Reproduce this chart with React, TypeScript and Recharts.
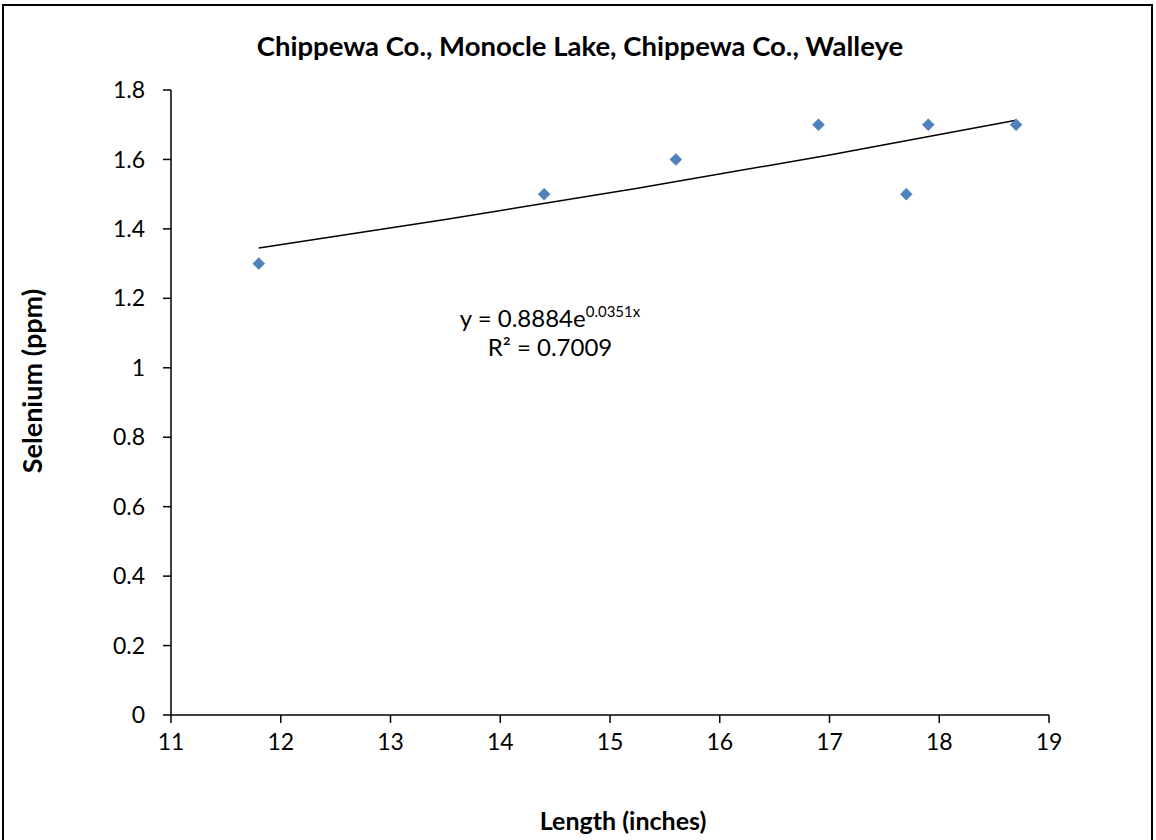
import React from "react";
import {
  ScatterChart,
  Scatter,
  XAxis,
  YAxis,
  Customized,
} from "recharts";

const lengths = [11.8, 14.4, 15.6, 16.9, 17.7, 17.9, 18.7];
const selenium = [1.3, 1.5, 1.6, 1.7, 1.5, 1.7, 1.7];

const trendX = [11.8, 13.5, 15.25, 17, 18.7];
const trendY = [1.345, 1.427, 1.517, 1.613, 1.713];

const xTicks = [11, 12, 13, 14, 15, 16, 17, 18, 19];
const yTicks = [0, 0.2, 0.4, 0.6, 0.8, 1, 1.2, 1.4, 1.6, 1.8];

const points = lengths.map((x, i) => ({ x, y: selenium[i] }));
const trend = trendX.map((x, i) => ({ x, y: trendY[i] }));

const FONT = "Lato, 'Open Sans', sans-serif";
const W = 1156;
const H = 840;

const Diamond = (props: any) => {
  const { cx, cy } = props;
  const r = 6;
  return (
    <polygon
      points={`${cx},${cy - r} ${cx + r},${cy} ${cx},${cy + r} ${cx - r},${cy}`}
      fill="#4F81BD"
      stroke="#4A7EBB"
      strokeWidth={0.5}
    />
  );
};

const NoDot = () => <g />;

const Decorations = () => (
  <g fontFamily={FONT}>
    <rect x={3} y={5} width={1149} height={845} fill="none" stroke="#000" strokeWidth={2} />
    <text x={580} y={56} textAnchor="middle" fontSize={27.5} fontWeight="bold" fill="#000">
      Chippewa Co., Monocle Lake, Chippewa Co., Walleye
    </text>
    <text x={623} y={830} textAnchor="middle" fontSize={25} fontWeight="bold" fill="#000">
      Length (inches)
    </text>
    <text
      x={0}
      y={0}
      transform="translate(42, 381) rotate(-90)"
      textAnchor="middle"
      fontSize={27}
      fontWeight="bold"
      fill="#000"
    >
      Selenium (ppm)
    </text>
    <text x={550} y={327} textAnchor="middle" fontSize={24} fill="#000">
      y = 0.8884e
      <tspan fontSize={15} dy={-10}>0.0351x</tspan>
    </text>
    <text x={550} y={356} textAnchor="middle" fontSize={24} fill="#000">
      R² = 0.7009
    </text>
  </g>
);

export default function App() {
  return (
    <div style={{ position: "absolute", left: 0, top: 0, width: W, height: H, background: "#fff" }}>
      <ScatterChart
        width={W}
        height={H}
        margin={{ top: 90, right: 107, bottom: 85, left: 101 }}
      >
        <XAxis
          type="number"
          dataKey="x"
          domain={[11, 19]}
          ticks={xTicks}
          allowDataOverflow
          stroke="#000"
          strokeWidth={1.5}
          tickSize={8}
          tickMargin={11}
          height={40}
          tick={{ fill: "#000", fontSize: 23, fontFamily: FONT }}
        />
        <YAxis
          type="number"
          dataKey="y"
          domain={[0, 1.8]}
          ticks={yTicks}
          allowDataOverflow
          stroke="#000"
          strokeWidth={1.5}
          tickSize={8}
          tickMargin={18}
          width={70}
          tick={{ fill: "#000", fontSize: 23, fontFamily: FONT }}
        />
        <Scatter
          data={trend}
          line={{ stroke: "#000", strokeWidth: 1.5 }}
          shape={NoDot}
          isAnimationActive={false}
        />
        <Scatter data={points} shape={Diamond} isAnimationActive={false} />
        <Customized component={Decorations} />
      </ScatterChart>
    </div>
  );
}
